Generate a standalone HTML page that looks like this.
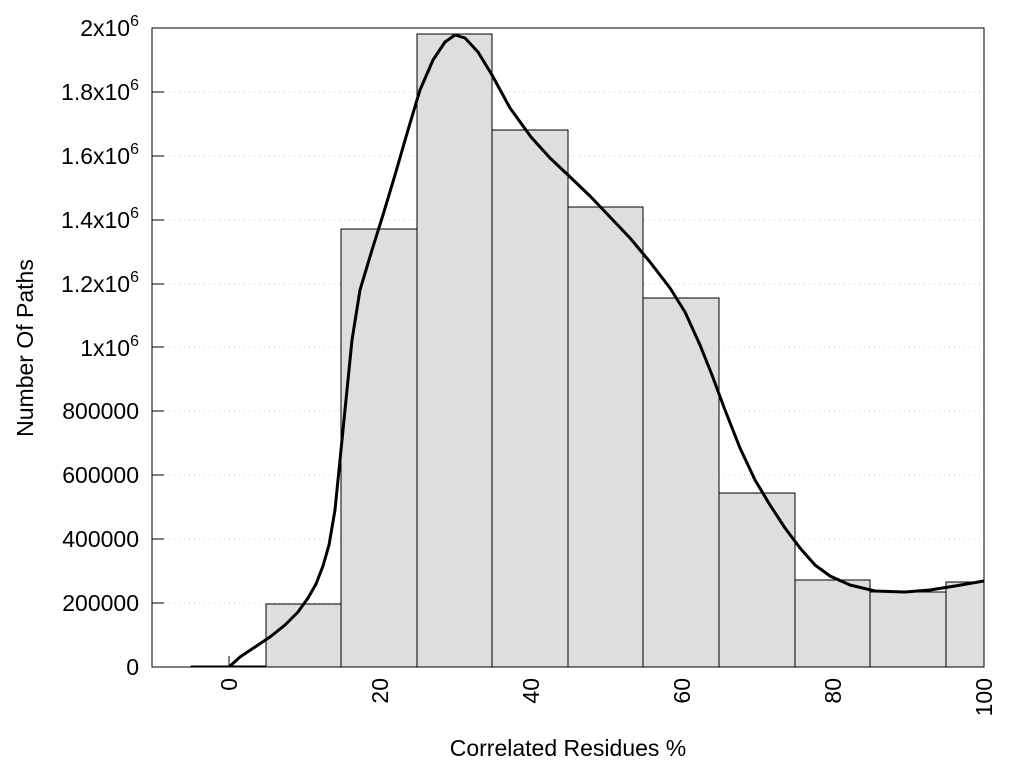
<!DOCTYPE html>
<html><head><style>body{margin:0;background:#fff}svg{display:block}text{font-family:"Liberation Sans",sans-serif;fill:#000}</style></head><body>
<svg width="1024" height="768" viewBox="0 0 1024 768">
<defs><clipPath id="c"><rect x="152" y="28" width="832" height="639"/></clipPath></defs>
<g stroke="#ccc" stroke-dasharray="1,4" stroke-width="1">
<line x1="164" y1="603" x2="984" y2="603"/><line x1="164" y1="539" x2="984" y2="539"/><line x1="164" y1="475" x2="984" y2="475"/><line x1="164" y1="411" x2="984" y2="411"/><line x1="164" y1="347" x2="984" y2="347"/><line x1="164" y1="284" x2="984" y2="284"/><line x1="164" y1="220" x2="984" y2="220"/><line x1="164" y1="156" x2="984" y2="156"/><line x1="164" y1="92" x2="984" y2="92"/>
</g>
<g clip-path="url(#c)" fill="#dedede" stroke="#000" stroke-width="1">
<rect x="191" y="666" width="75" height="1"/>
<rect x="266" y="604" width="75" height="63"/>
<rect x="341" y="229" width="76" height="438"/>
<rect x="417" y="34" width="75" height="633"/>
<rect x="492" y="130" width="76" height="537"/>
<rect x="568" y="207" width="75" height="460"/>
<rect x="643" y="298" width="76" height="369"/>
<rect x="719" y="493" width="76" height="174"/>
<rect x="795" y="580" width="75" height="87"/>
<rect x="870" y="592" width="76" height="75"/>
<rect x="946" y="582" width="76" height="85"/>
</g>
<line x1="229" y1="667" x2="229" y2="656" stroke="#000"/>
<g stroke="#000" stroke-width="1">
<line x1="152" y1="603" x2="164" y2="603"/><line x1="152" y1="539" x2="164" y2="539"/><line x1="152" y1="475" x2="164" y2="475"/><line x1="152" y1="411" x2="164" y2="411"/><line x1="152" y1="347" x2="164" y2="347"/><line x1="152" y1="284" x2="164" y2="284"/><line x1="152" y1="220" x2="164" y2="220"/><line x1="152" y1="156" x2="164" y2="156"/><line x1="152" y1="92" x2="164" y2="92"/>
</g>
<polyline clip-path="url(#c)" fill="none" stroke="#000" stroke-width="3" stroke-linejoin="round" points="229,667 240,657 255,647 270,637 285,625 298,612 308,598 316,584 323,566 329,545 335,510 340,460 345,410 352,340 360,290 372,250 383,215 395,175 408,130 420,90 433,60 445,42 455,35 465,38 478,52 492,75 510,108 531,137 550,158 568,175 590,196 610,217 630,238 650,262 670,288 685,312 700,345 712,375 725,410 740,448 755,480 770,505 785,528 800,548 815,565 830,576 850,585 875,591 905,592 930,590 955,586 984,581"/>
<rect x="152" y="28" width="832" height="639" fill="none" stroke="#000" stroke-width="1"/>
<g font-size="23" text-anchor="end">
<text x="139" y="675">0</text>
<text x="139" y="611">200000</text>
<text x="139" y="547">400000</text>
<text x="139" y="483">600000</text>
<text x="139" y="419">800000</text>
<text x="139" y="356">1x10<tspan font-size="16" dy="-10">6</tspan></text>
<text x="139" y="292">1.2x10<tspan font-size="16" dy="-10">6</tspan></text>
<text x="139" y="228">1.4x10<tspan font-size="16" dy="-10">6</tspan></text>
<text x="139" y="164">1.6x10<tspan font-size="16" dy="-10">6</tspan></text>
<text x="139" y="100">1.8x10<tspan font-size="16" dy="-10">6</tspan></text>
<text x="139" y="36">2x10<tspan font-size="16" dy="-10">6</tspan></text>
</g>
<g font-size="23" text-anchor="end">
<text transform="translate(237,678) rotate(-90)">0</text>
<text transform="translate(388,678) rotate(-90)">20</text>
<text transform="translate(539,678) rotate(-90)">40</text>
<text transform="translate(690,678) rotate(-90)">60</text>
<text transform="translate(841,678) rotate(-90)">80</text>
<text transform="translate(992,678) rotate(-90)">100</text>
</g>
<text x="568" y="756" font-size="23" text-anchor="middle">Correlated Residues %</text>
<text transform="translate(33,348) rotate(-90)" font-size="23" text-anchor="middle">Number Of Paths</text>
</svg>
</body></html>
